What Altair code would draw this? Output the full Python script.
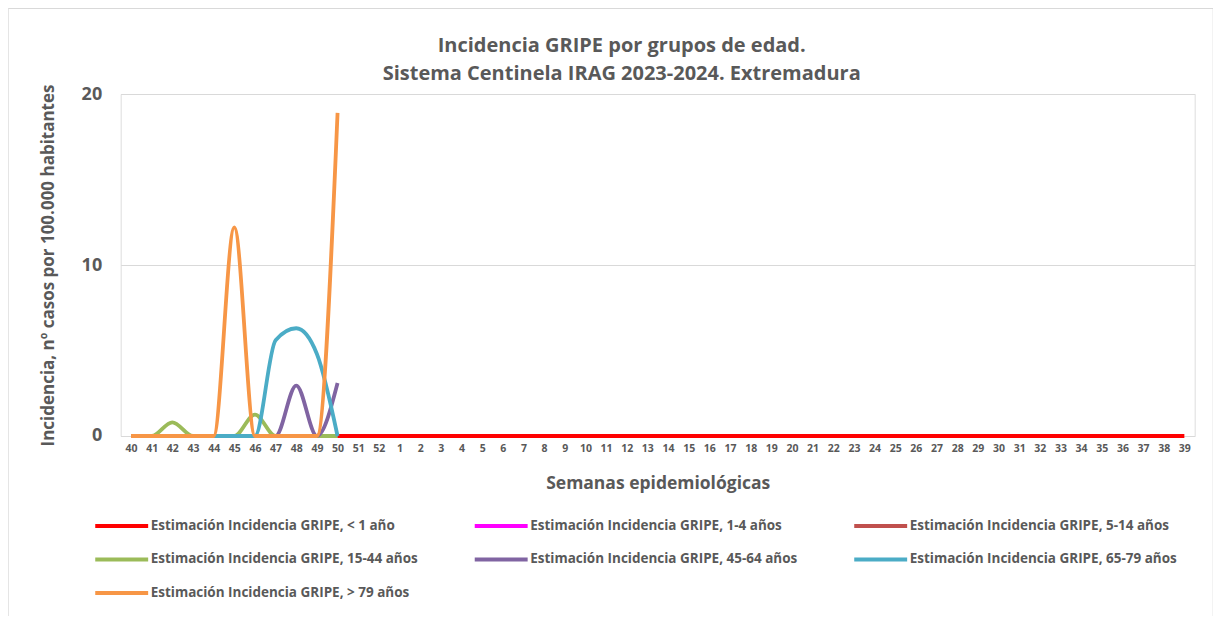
import altair as alt
import pandas as pd

weeks = ["40", "41", "42", "43", "44", "45", "46", "47", "48", "49", "50", "51", "52",
         "1", "2", "3", "4", "5", "6", "7", "8", "9", "10", "11", "12", "13", "14",
         "15", "16", "17", "18", "19", "20", "21", "22", "23", "24", "25", "26", "27",
         "28", "29", "30", "31", "32", "33", "34", "35", "36", "37", "38", "39"]

series_names = [
    "Estimación Incidencia GRIPE, < 1 año",
    "Estimación Incidencia GRIPE, 1-4 años",
    "Estimación Incidencia GRIPE, 5-14 años",
    "Estimación Incidencia GRIPE, 15-44 años",
    "Estimación Incidencia GRIPE, 45-64 años",
    "Estimación Incidencia GRIPE, 65-79 años",
    "Estimación Incidencia GRIPE, > 79 años",
]
colors = ["#FF0000", "#FF00FF", "#C0504D", "#9BBB59", "#8064A2", "#4BACC6", "#F79646"]

# values for weeks 40..39 (series other than < 1 año only reported through week 50)
v_lt1 = [0, 0, 0, 0, 0, 0, 0, 0, 0, 0, 0, 0, 0, 0, 0, 0, 0, 0, 0, 0, 0, 0, 0, 0, 0, 0,
         0, 0, 0, 0, 0, 0, 0, 0, 0, 0, 0, 0, 0, 0, 0, 0, 0, 0, 0, 0, 0, 0, 0, 0, 0, 0]
v_1_4 = [0, 0, 0, 0, 0, 0, 0, 0, 0, 0, 0]
v_5_14 = [0, 0, 0, 0, 0, 0, 0, 0, 0, 0, 0]
v_15_44 = [0, 0, 0.8, 0, 0, 0, 1.25, 0, 0, 0, 0]
v_45_64 = [0, 0, 0, 0, 0, 0, 0, 0, 2.95, 0, 3.1]
v_65_79 = [0, 0, 0, 0, 0, 0, 0, 5.6, 6.3, 4.8, 0]
v_gt79 = [0, 0, 0, 0, 0, 12.2, 0, 0, 0, 0, 18.9]

all_values = [v_lt1, v_1_4, v_5_14, v_15_44, v_45_64, v_65_79, v_gt79]

rows = []
for name, vals in zip(series_names, all_values):
    for i, v in enumerate(vals):
        rows.append({"serie": name, "semana": weeks[i], "valor": v})
df = pd.DataFrame(rows)

FONT = "Open Sans"
GRAY = "#595959"

color_scale = alt.Scale(domain=series_names, range=colors)

layers = []
for idx, name in enumerate(series_names):
    enc = dict(
        x=alt.X("semana:O", sort=weeks, scale=alt.Scale(domain=weeks, paddingOuter=0.5),
                axis=alt.Axis(title="Semanas epidemiológicas", labelAngle=0, ticks=False,
                              domain=False, labelFontSize=10.5, labelFont=FONT,
                              labelFontWeight="bold", labelColor=GRAY, labelPadding=8,
                              titleFontSize=17.5, titleFont=FONT, titleFontWeight="bold",
                              titleColor=GRAY, titlePadding=20)),
        y=alt.Y("valor:Q", scale=alt.Scale(domain=[0, 20]),
                axis=alt.Axis(title="Incidencia, nº casos por 100.000 habitantes",
                              values=[0, 10, 20], ticks=False, domain=False,
                              labelFontSize=18, labelFont=FONT, labelFontWeight="bold",
                              labelColor=GRAY, labelPadding=19, gridColor="#d9d9d9",
                              gridWidth=1, titleFontSize=17, titleFont=FONT,
                              titleFontWeight="bold", titleColor=GRAY, titlePadding=24)),
        color=alt.Color("serie:N", scale=color_scale,
                        legend=alt.Legend(title=None, orient="none", legendX=-8,
                                          legendY=423, columns=3, direction="horizontal",
                                          gridAlign="all",
                                          columnPadding=47.5, rowPadding=16.5,
                                          symbolType="M-4,0L4,0", symbolSize=175,
                                          symbolStrokeWidth=4, labelFont=FONT,
                                          labelFontSize=13.5, labelFontWeight="bold",
                                          labelColor=GRAY, labelOffset=20,
                                          labelLimit=400, padding=0)),
    )
    layer = alt.Chart(df).transform_filter(
        alt.datum.serie == name
    ).mark_line(interpolate="monotone", strokeWidth=3.8).encode(**enc)
    layers.append(layer)

frame = alt.Chart(pd.DataFrame({"a": [0]})).mark_rect(
    filled=False, fill="transparent", stroke="#d9d9d9", strokeWidth=1
).encode(x=alt.value(-112.5), x2=alt.value(1092.5), y=alt.value(-85.5), y2=alt.value(560))

chart = alt.layer(frame, *layers).properties(
    width=1074,
    height=342,
    title=alt.TitleParams(
        text=["Incidencia GRIPE por grupos de edad.",
              "Sistema Centinela IRAG 2023-2024. Extremadura"],
        font=FONT, fontSize=20, fontWeight="bold", color=GRAY,
        anchor="middle", frame="group", dx=-36, dy=90, lineHeight=28, offset=14),
    autosize=alt.AutoSizeParams(type="none"),
    padding={"left": 112.7, "top": 86, "right": 18, "bottom": 180},
).configure_view(stroke=None).configure(background="white")

chart.save("out.html", embed_options={"renderer": "svg", "actions": False})
